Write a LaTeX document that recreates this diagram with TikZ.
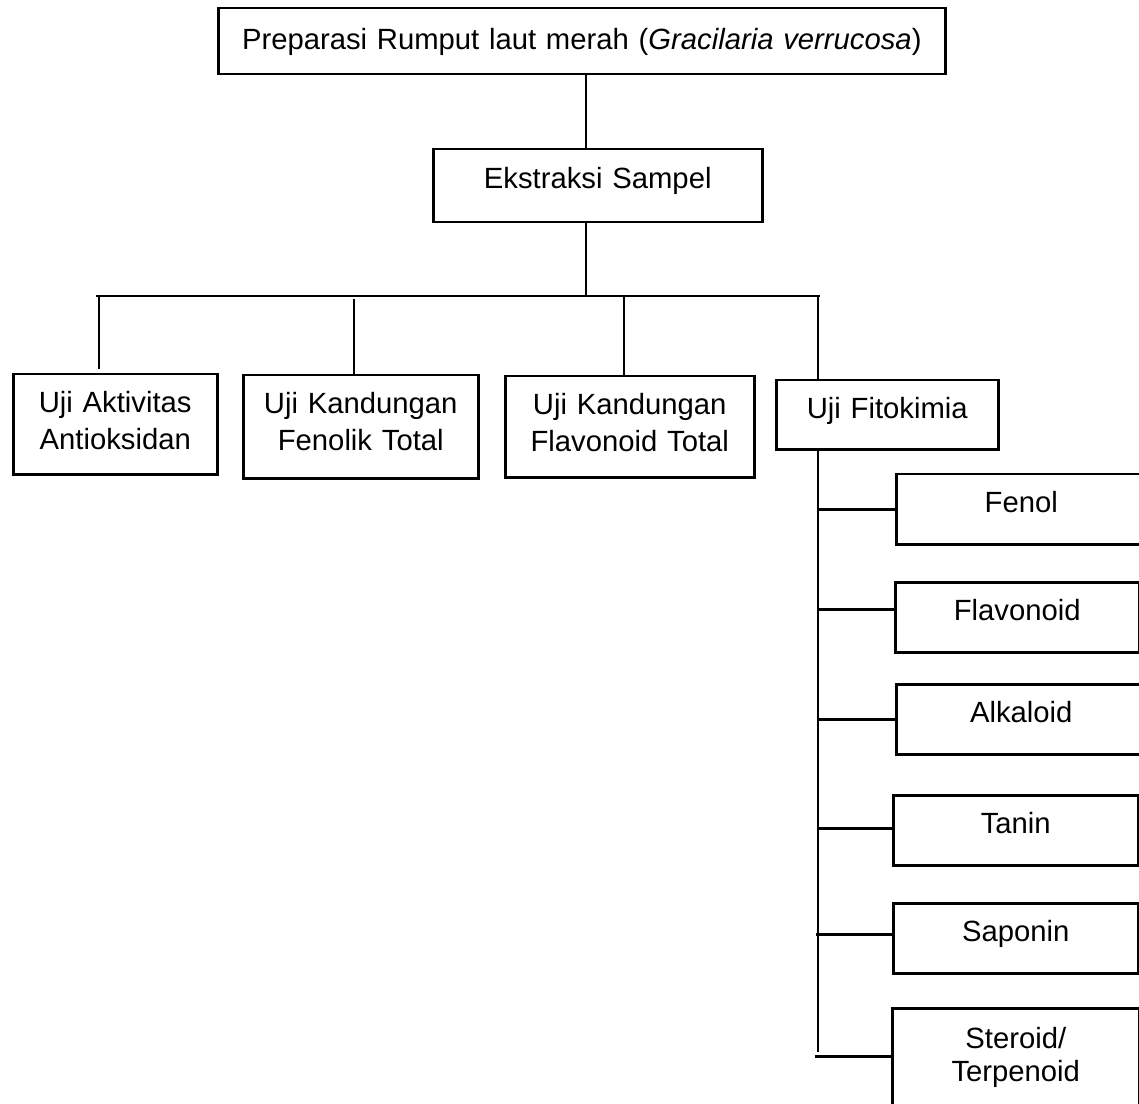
\documentclass[tikz,border=0pt]{standalone}
\usepackage{fontspec}
\setmainfont{Liberation Sans}
\usepackage{tikz}
\tikzset{
    kotak/.style={draw,line width=1pt,inner sep=0pt,anchor=north west,align=center,
        text height=15.2pt,font=\fontsize{11.7}{14.8}\selectfont},
    garis/.style={line width=1.05pt},
}

\begin{document}
\begin{tikzpicture}[x=0.4pt,y=-0.4pt]
\useasboundingbox (0,0) rectangle (1139,1104);

\node[kotak,text width=290.8pt,text height=16.4pt,text depth=10pt] (atas) at (217,7)
    {Preparasi Rumput laut merah (\textit{Gracilaria verrucosa})};
\node[kotak,text width=131.6pt,text height=15.6pt,text depth=13.6pt] (ekstraksi) at (432,148)
    {Ekstraksi Sampel};

\node[kotak,text width=81.6pt,text depth=24.8pt] (uji1) at (12,373) {Uji Aktivitas\\Antioksidan};
\node[kotak,text width=94pt,text depth=26pt] (uji2) at (242,374) {Uji Kandungan\\Fenolik Total};
\node[kotak,text width=99.6pt,text depth=25.2pt] (uji3) at (504,375) {Uji Kandungan\\Flavonoid Total};
\node[kotak,text width=88.8pt,text depth=12.4pt] (uji4) at (775,379) {Uji Fitokimia};

\node[kotak,text width=100pt,text depth=12.8pt] (fenol) at (895,473) {Fenol};
\node[kotak,text width=97.6pt,text depth=12.8pt] (flav) at (894,581) {Flavonoid};
\node[kotak,text width=100pt,text depth=12.8pt] (alk) at (895,683) {Alkaloid};
\node[kotak,text width=98pt,text depth=12.8pt] (tanin) at (892,794) {Tanin};
\node[kotak,text width=98pt,text depth=12.8pt] (sapo) at (892,902) {Saponin};
\node[kotak,text width=98.8pt,text height=16pt,text depth=24pt,
    font=\fontsize{11.7}{13.4}\selectfont] (ster) at (891,1007) {Steroid/\\Terpenoid};

% batang utama
\coordinate (poros) at (586,296);
\coordinate (kiri) at (96,296);
\coordinate (kanan) at (820,296);
\draw[garis] (atas.south -| poros) -- (ekstraksi.north -| poros);
\draw[garis] (ekstraksi.south -| poros) -- (poros);
\draw[garis] (kiri) -- (kanan);
\foreach \n/\x/\y/\s in {uji1/99/296/1.6pt,uji2/354/299/0pt,uji3/624/296/0pt,uji4/818/296/0pt}
    \draw[garis,shorten >=\s] (\x,\y) -- (\n.north -| \x,\y);

% cabang fitokimia
\coordinate (ujung) at (818,1052);
\draw[garis] (uji4.south -| ujung) -- (ujung);
\foreach \n/\d/\m in {fenol/0/0,flav/3.2/0,alk/0/0,tanin/0.8/0,sapo/1.6/1,ster/0.8/1.2}
    \draw[garis] ([yshift=\d pt,xshift=-\m pt]\n.west -| ujung) -- ([yshift=\d pt]\n.west);

\end{tikzpicture}
\end{document}
